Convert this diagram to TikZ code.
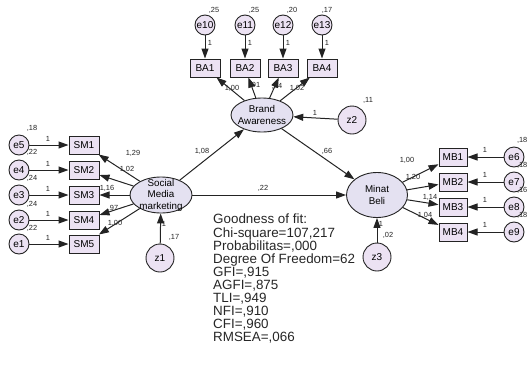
\documentclass[tikz,border=0pt]{standalone}
\usepackage{fontspec}
\setmainfont{Liberation Sans}
\usepackage{tikz}
\usetikzlibrary{shapes.geometric,arrows.meta}
\definecolor{obsfill}{RGB}{236,226,243}
\definecolor{latfill}{RGB}{228,225,241}
\definecolor{ink}{RGB}{35,35,35}

\begin{document}
\begin{tikzpicture}[x=1pt, y=-1pt,
  obs/.style={draw=ink, line width=1pt, fill=obsfill, minimum width=30pt, minimum height=18pt, inner sep=0pt, font=\fontsize{10}{10}\selectfont},
  lat/.style={ellipse, draw=ink, line width=0.9pt, fill=latfill, align=center, font=\fontsize{9.8}{11.5}\selectfont},
  err/.style={circle, draw=ink, line width=0.9pt, fill=obsfill, minimum size=20pt, inner sep=0pt, font=\fontsize{10}{10}\selectfont},
  dst/.style={err, minimum size=28pt},
  num/.style={font=\fontsize{7.4}{8}\selectfont, text=ink, inner sep=0pt},
  arr/.style={-{Triangle[length=10pt,width=7pt]}, line width=1pt, draw=ink}
]
\useasboundingbox (0,0) rectangle (528,373);

% latent variables
\node[lat, minimum width=62pt, minimum height=36pt, inner xsep=0pt, inner ysep=-6pt] (smm) at (161,195) {Social\\Media\\marketing};
\node[lat, minimum width=62pt, minimum height=34pt, inner xsep=-3pt, inner ysep=0pt] (ba) at (262,115) {Brand\\Awareness};
\node[lat, minimum width=61pt, minimum height=45pt, inner sep=0pt] (mb) at (377,195) {Minat\\Beli};

% Social Media marketing indicators
\node[obs] (SM1) at (84,145) {SM1};
\node[obs] (SM2) at (84,170) {SM2};
\node[obs] (SM3) at (84,195) {SM3};
\node[obs] (SM4) at (84,220) {SM4};
\node[obs] (SM5) at (84,244) {SM5};
\node[err] (e5) at (19,145) {e5};
\node[err] (e4) at (19,170) {e4};
\node[err] (e3) at (19,195) {e3};
\node[err] (e2) at (19,220) {e2};
\node[err] (e1) at (19,244) {e1};

% Brand Awareness indicators
\node[obs] (BA1) at (205,68) {BA1};
\node[obs] (BA2) at (245,68) {BA2};
\node[obs] (BA3) at (283,68) {BA3};
\node[obs] (BA4) at (322,68) {BA4};
\node[err] (e10) at (205,25) {e10};
\node[err] (e11) at (245,25) {e11};
\node[err] (e12) at (283,25) {e12};
\node[err] (e13) at (322,25) {e13};

% Minat Beli indicators
\node[obs, minimum width=28pt] (MB1) at (453,157) {MB1};
\node[obs, minimum width=28pt] (MB2) at (453,182) {MB2};
\node[obs, minimum width=28pt] (MB3) at (453,207) {MB3};
\node[obs, minimum width=28pt] (MB4) at (453,232) {MB4};
\node[err] (e6) at (514,157) {e6};
\node[err] (e7) at (514,182) {e7};
\node[err] (e8) at (514,207) {e8};
\node[err] (e9) at (514,232) {e9};

% disturbances
\node[dst] (z1) at (160,258) {z1};
\node[dst] (z2) at (352,120) {z2};
\node[dst] (z3) at (377,257) {z3};

% paths
\draw[arr] (e5) -- (SM1);
\draw[arr] (e4) -- (SM2);
\draw[arr] (e3) -- (SM3);
\draw[arr] (e2) -- (SM4);
\draw[arr] (e1) -- (SM5);
\draw[arr] (smm) -- (SM1);
\draw[arr] (smm) -- (SM2);
\draw[arr] (smm) -- (SM3);
\draw[arr] (smm) -- (SM4);
\draw[arr] (smm) -- (SM5);
\draw[arr] (z1) -- (smm);
\draw[arr] (e10) -- (BA1);
\draw[arr] (e11) -- (BA2);
\draw[arr] (e12) -- (BA3);
\draw[arr] (e13) -- (BA4);
\draw[arr] (ba) -- (BA1);
\draw[arr] (ba) -- (BA2);
\draw[arr] (ba) -- (BA3);
\draw[arr] (ba) -- (BA4);
\draw[arr] (z2) -- (ba);
\draw[arr] (smm) -- (ba);
\draw[arr] (ba) -- (mb);
\draw[arr] (smm) -- (mb);
\draw[arr] (mb) -- (MB1);
\draw[arr] (mb) -- (MB2);
\draw[arr] (mb) -- (MB3);
\draw[arr] (mb) -- (MB4);
\draw[arr] (e6) -- (MB1);
\draw[arr] (e7) -- (MB2);
\draw[arr] (e8) -- (MB3);
\draw[arr] (e9) -- (MB4);
\draw[arr] (z3) -- (mb);

% variances
\node[num] (ve5) at (32,128) {,18};
\node[num] (ve4) at (32,152) {,22};
\node[num] (ve3) at (32,178) {,24};
\node[num] (ve2) at (32,204) {,24};
\node[num] (ve1) at (32,228) {,22};
\node[num] (vz1) at (174,237) {,17};
\node[num] (ve10) at (214,10) {,25};
\node[num] (ve11) at (254,10) {,25};
\node[num] (ve12) at (292,10) {,20};
\node[num] (ve13) at (327,10) {,17};
\node[num] (vz2) at (368,100) {,11};
\node[num] (vz3) at (388,235) {,02};
\node[num, anchor=east] (ve6) at (527.5,140) {,18};
\node[num, anchor=east] (ve7) at (527.5,165) {,18};
\node[num, anchor=east] (ve8) at (527.5,190) {,16};
\node[num, anchor=east] (ve9) at (527.5,215) {,18};

% fixed weights
\node[num] (f5) at (48,139) {1};
\node[num] (f4) at (48,164) {1};
\node[num] (f3) at (48,189) {1};
\node[num] (f2) at (48,214) {1};
\node[num] (f1) at (48,238) {1};
\node[num] (f10) at (210,43) {1};
\node[num] (f11) at (250,43) {1};
\node[num] (f12) at (288,43) {1};
\node[num] (f13) at (327,43) {1};
\node[num] (f6) at (485,150) {1};
\node[num] (f7) at (485,175) {1};
\node[num] (f8) at (485,200) {1};
\node[num] (f9) at (485,225) {1};
\node[num] (fz1) at (164,224) {1};
\node[num] (fz2) at (315,113) {1};
\node[num] (fz3) at (381,224) {1};

% estimates
\node[num] (wSM1) at (133,153) {1,29};
\node[num] (wSM2) at (127,169) {1,02};
\node[num] (wSM3) at (107,188) {1,16};
\node[num] (wSM4) at (113,208) {,97};
\node[num] (wSM5) at (115,223) {1,00};
\node[num] (wBA1) at (232,88) {1,00};
\node[num] (wBA2) at (255,85) {,91};
\node[num] (wBA3) at (277,86) {,84};
\node[num] (wBA4) at (297,88) {1,02};
\node[num] (wMB1) at (407,160) {1,00};
\node[num] (wMB2) at (413,177) {1,20};
\node[num] (wMB3) at (430,197) {1,14};
\node[num] (wMB4) at (425,215) {1,04};
\node[num] (wsb) at (202,151) {1,08};
\node[num] (wbm) at (327,151) {,66};
\node[num] (wsm) at (263,188) {,22};

% fit indices
\node[anchor=north west, align=left, inner sep=0pt, text=black!85, font=\fontsize{13.4}{13.1}\selectfont] (gof) at (213,214)
  {Goodness of fit:\\Chi-square=107,217\\Probabilitas=,000\\Degree Of Freedom=62\\GFI=,915\\AGFI=,875\\TLI=,949\\NFI=,910\\CFI=,960\\RMSEA=,066};
\end{tikzpicture}
\end{document}
